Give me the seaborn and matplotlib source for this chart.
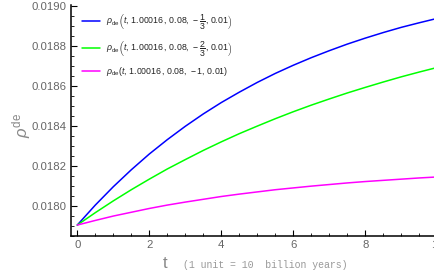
import numpy as np
import pandas as pd
import seaborn as sns
from matplotlib import pyplot as plt
from matplotlib.ticker import MultipleLocator, FormatStrFormatter

# time in units of 10 billion years
t_vals = [0, 0.5, 1, 1.5, 2, 2.5, 3, 3.5, 4, 4.5, 5,
          5.5, 6, 6.5, 7, 7.5, 8, 8.5, 9, 9.5, 10]

# rho_de for w = -1/3, -2/3, -1
rho_w13 = [0.017903, 0.018003, 0.018095, 0.018180, 0.018259, 0.018331, 0.018398,
           0.018460, 0.018517, 0.018569, 0.018618, 0.018663, 0.018704, 0.018742,
           0.018777, 0.018810, 0.018840, 0.018868, 0.018894, 0.018917, 0.018939]
rho_w23 = [0.017903, 0.017965, 0.018024, 0.018080, 0.018133, 0.018184, 0.018231,
           0.018277, 0.018320, 0.018361, 0.018399, 0.018436, 0.018471, 0.018504,
           0.018535, 0.018565, 0.018593, 0.018620, 0.018646, 0.018670, 0.018693]
rho_w1 = [0.017903, 0.017926, 0.017948, 0.017967, 0.017986, 0.018003, 0.018018,
          0.018032, 0.018046, 0.018058, 0.018069, 0.018080, 0.018089, 0.018098,
          0.018106, 0.018114, 0.018121, 0.018127, 0.018133, 0.018139, 0.018144]

labels = [r'$\rho_{\mathrm{de}}\left(t,\,1.00016\,,\,0.08,\,-\dfrac{1}{3},\,0.01\right)$',
          r'$\rho_{\mathrm{de}}\left(t,\,1.00016\,,\,0.08,\,-\dfrac{2}{3},\,0.01\right)$',
          r'$\rho_{\mathrm{de}}(t,\,1.00016\,,\,0.08,\,-1,\,0.01)$']
colors = ['#0000ff', '#00ff00', '#ff00ff']

sns.set_style('white')
plt.rcParams['font.family'] = ['Liberation Sans', 'DejaVu Sans']
plt.rcParams['mathtext.fontset'] = 'custom'
plt.rcParams['mathtext.rm'] = 'Liberation Sans'
plt.rcParams['mathtext.it'] = 'Liberation Sans:italic'
plt.rcParams['mathtext.bf'] = 'Liberation Sans:bold'

frames = []
for lab, vals in zip(labels, [rho_w13, rho_w23, rho_w1]):
    frames.append(pd.DataFrame({'t': t_vals, 'rho': vals, 'curve': lab}))
df = pd.concat(frames, ignore_index=True)

fig = plt.figure(figsize=(4.35, 2.76), dpi=100)
ax = fig.add_axes([71 / 435, 40 / 276, 366.3 / 435, 231 / 276])
sns.lineplot(data=df, x='t', y='rho', hue='curve', palette=colors,
             linewidth=1.1, ax=ax)

ax.set_xlim(-0.175, 10)
ax.set_ylim(0.017848, 0.019006)
ax.xaxis.set_major_locator(MultipleLocator(2))
ax.xaxis.set_minor_locator(MultipleLocator(0.5))
ax.yaxis.set_major_locator(MultipleLocator(0.0002))
ax.yaxis.set_minor_locator(MultipleLocator(0.00005))
ax.yaxis.set_major_formatter(FormatStrFormatter('%.4f'))
ax.xaxis.set_major_formatter(FormatStrFormatter('%d'))

for s in ['top', 'right']:
    ax.spines[s].set_visible(False)
for s in ['left', 'bottom']:
    ax.spines[s].set_linewidth(1.1)
    ax.spines[s].set_color('black')
ax.tick_params(which='major', direction='in', length=4, width=0.8, color='black',
               labelsize=8.2, labelcolor='#666666', pad=3)
ax.tick_params(which='minor', direction='in', length=2.2, width=0.6, color='black')
ax.tick_params(axis='x', which='both', bottom=True)
ax.tick_params(axis='y', which='both', left=True)

ax.set_xlabel('')
ax.set_ylabel(r'$\rho^{\mathrm{de}}$', fontsize=12, color='#888888')
ax.yaxis.set_label_coords(-0.104, 0.48)

fig.text(163 / 435, 0.028, 't', fontsize=12, color='#888888', va='baseline')
fig.text(183 / 435, 0.03, '(1 unit = 10  billion years)', fontsize=7.1,
         color='#999999', family='Liberation Mono', va='baseline')

leg = ax.legend(loc='upper left', bbox_to_anchor=(0.03, 0.968), frameon=False,
                fontsize=6.3, handlelength=2.1, handletextpad=0.6,
                borderaxespad=0, borderpad=0, labelspacing=0.85)
for txt in leg.get_texts():
    txt.set_color('#222222')
for ln in leg.get_lines():
    ln.set_linewidth(1.1)

plt.savefig('out.png', dpi=100)
